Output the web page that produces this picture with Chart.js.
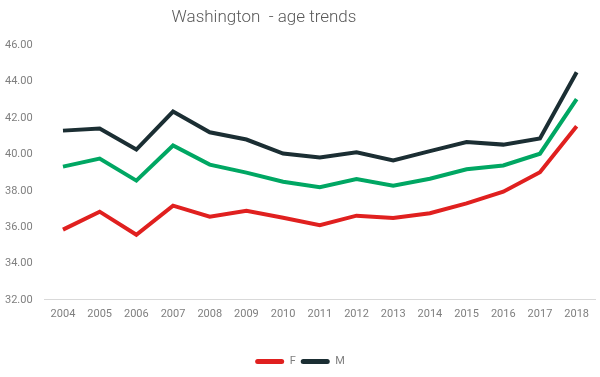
<!DOCTYPE html>
<html>
<head>
<meta charset="utf-8">
<script src="https://cdn.jsdelivr.net/npm/chart.js@4"></script>
<style>
  html, body { margin: 0; padding: 0; background: #fff; }
  #wrap { width: 600px; height: 377px; position: relative; }
</style>
</head>
<body>
<div id="wrap"><canvas id="ageChart"></canvas></div>
<script>
// data
const years = ['2004','2005','2006','2007','2008','2009','2010','2011','2012','2013','2014','2015','2016','2017','2018'];
const femaleAge = [35.86, 36.85, 35.58, 37.18, 36.57, 36.90, 36.52, 36.10, 36.63, 36.50, 36.76, 37.31, 37.95, 39.02, 41.55];
const maleAge   = [41.31, 41.42, 40.27, 42.36, 41.22, 40.82, 40.05, 39.83, 40.12, 39.67, 40.18, 40.68, 40.54, 40.88, 44.52];
const totalAge  = [39.33, 39.77, 38.56, 40.49, 39.44, 39.00, 38.50, 38.20, 38.64, 38.28, 38.66, 39.18, 39.39, 40.04, 43.04];

const tickColor = '#7f7f7f';

// the title in the original sits a bit left of centre
const titleShift = {
    id: 'titleShift',
    afterLayout(chart) {
        const t = chart.titleBlock;
        if (t) t.right = 2 * 264 - t.left;
    }
};

document.addEventListener("DOMContentLoaded", function() {
    const ctx = document.getElementById('ageChart').getContext('2d');

    new Chart(ctx, {
        type: 'line',
        data: {
            labels: years,
            datasets: [
                {
                    label: 'F',
                    data: femaleAge,
                    borderColor: '#e0201f',
                    backgroundColor: '#e0201f',
                    borderWidth: 4,
                    pointRadius: 0,
                    tension: 0,
                    fill: false
                },
                {
                    label: 'M',
                    data: maleAge,
                    borderColor: '#1b2e33',
                    backgroundColor: '#1b2e33',
                    borderWidth: 4,
                    pointRadius: 0,
                    tension: 0,
                    fill: false
                },
                {
                    label: 'Total',
                    data: totalAge,
                    borderColor: '#00a763',
                    backgroundColor: '#00a763',
                    borderWidth: 4,
                    pointRadius: 0,
                    tension: 0,
                    fill: false
                }
            ]
        },
        options: {
            responsive: true,
            maintainAspectRatio: false,
            animation: false,
            layout: {
                padding: { left: 5, right: 5, top: 5, bottom: 0 }
            },
            scales: {
                x: {
                    offset: true,
                    grid: { display: false, drawTicks: false },
                    border: { display: true, color: '#d9d9d9', width: 1 },
                    ticks: {
                        color: tickColor,
                        font: { family: 'Roboto', size: 11 },
                        maxRotation: 0,
                        autoSkip: false,
                        padding: 8
                    },
                    // extra room between the year labels and the legend
                    afterFit: function(scale) { scale.height += 22; }
                },
                y: {
                    min: 32,
                    max: 46,
                    grid: { display: false, drawTicks: false },
                    border: { display: false },
                    ticks: {
                        stepSize: 2,
                        color: tickColor,
                        crossAlign: 'far',
                        padding: 6,
                        font: { family: 'Roboto', size: 11 },
                        callback: v => v.toFixed(2)
                    }
                }
            },
            plugins: {
                title: {
                    display: true,
                    text: 'Washington  - age trends',
                    color: '#595959',
                    font: { family: 'Roboto', size: 17, weight: '300' },
                    padding: { top: 3, bottom: 17 }
                },
                legend: {
                    position: 'bottom',
                    labels: {
                        color: tickColor,
                        font: { family: 'Roboto', size: 11 },
                        boxWidth: 29,
                        boxHeight: 5,
                        padding: 5,
                        useBorderRadius: true,
                        borderRadius: 2.5,
                        // plain filled bar, no thick outline
                        generateLabels: chart => Chart.defaults.plugins.legend.labels
                            .generateLabels(chart).map(l => Object.assign(l, { lineWidth: 0 })),
                        filter: item => item.text !== 'Total'
                    }
                },
                tooltip: { enabled: false }
            }
        },
        plugins: [titleShift]
    });
});
</script>
</body>
</html>
